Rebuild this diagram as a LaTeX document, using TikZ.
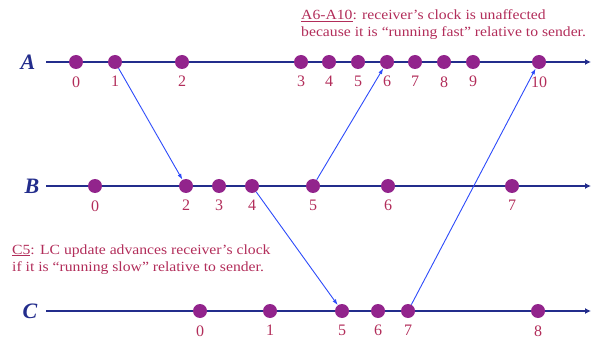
\documentclass[tikz,border=0pt]{standalone}
\usepackage{fontspec}
\setmainfont{Liberation Serif}
\newfontfamily\notefont[FakeStretch=1.12]{Liberation Serif}
\usetikzlibrary{arrows.meta}
\definecolor{lineblue}{RGB}{35,45,140}
\definecolor{msgblue}{RGB}{45,75,250}
\definecolor{dotpurple}{RGB}{146,36,140}
\definecolor{txtred}{RGB}{178,45,90}
\begin{document}
\begin{tikzpicture}[x=1pt,y=-1pt,
  ev/.style={circle,fill=dotpurple,minimum size=14pt,inner sep=0pt},
  num/.style={text=txtred,font=\fontsize{16}{16}\selectfont,inner sep=0pt},
  proc/.style={text=lineblue,font=\fontsize{22}{22}\selectfont\bfseries\itshape,inner sep=0pt},
  tline/.style={lineblue,line width=1.2pt,-{Latex[length=6pt,width=6pt]}},
  msg/.style={msgblue,line width=0.9pt,-{Latex[length=6pt,width=4pt]}},
  note/.style={text=txtred,font=\notefont\fontsize{14}{17}\selectfont,inner sep=0pt,anchor=base west}
]
\useasboundingbox (0,0) rectangle (591,339);
% process labels
\node[proc] (pA) at (28,62) {A};
\node[proc] (pB) at (32,186) {B};
\node[proc] (pC) at (30,311) {C};
% timelines
\coordinate (As) at (46,62);  \coordinate (Ae) at (591,62);
\coordinate (Bs) at (46,186); \coordinate (Be) at (591,186);
\coordinate (Cs) at (46,311); \coordinate (Ce) at (591,311);
\draw[tline] (As) -- (Ae);
\draw[tline] (Bs) -- (Be);
\draw[tline] (Cs) -- (Ce);
% A events
\foreach \n/\x in {0/76,1/115,2/182,3/301,4/329,5/358,6/387,7/415,8/444,9/473,10/539}
  \node[ev,label={[num,label distance=7pt]below:\n}] (a\n) at (\x,62) {};
% B events
\foreach \n/\x in {0/95,2/186,3/219,4/252,5/313,6/388,7/512}
  \node[ev,label={[num,label distance=7pt]below:\n}] (b\n) at (\x,186) {};
% C events
\foreach \n/\x in {0/200,1/270,5/342,6/378,7/408,8/538}
  \node[ev,label={[num,label distance=7pt]below:\n}] (c\n) at (\x,311) {};
% messages
\draw[msg] (a1) -- (b2);
\draw[msg] (b4) -- (c5);
\draw[msg] (b5) -- (a6);
\draw[msg] (c7) -- (a10);
% notes
\node[note] (n1a) at (301,19.5) {\underline{A6-A10}: receiver’s clock is unaffected};
\node[note] (n1b) at (301,36.5) {because it is “running fast” relative to sender.};
\node[note] (n2a) at (12,254) {\underline{C5}: LC update advances receiver’s clock};
\node[note] (n2b) at (12,271) {if it is “running slow” relative to sender.};
\end{tikzpicture}
\end{document}
